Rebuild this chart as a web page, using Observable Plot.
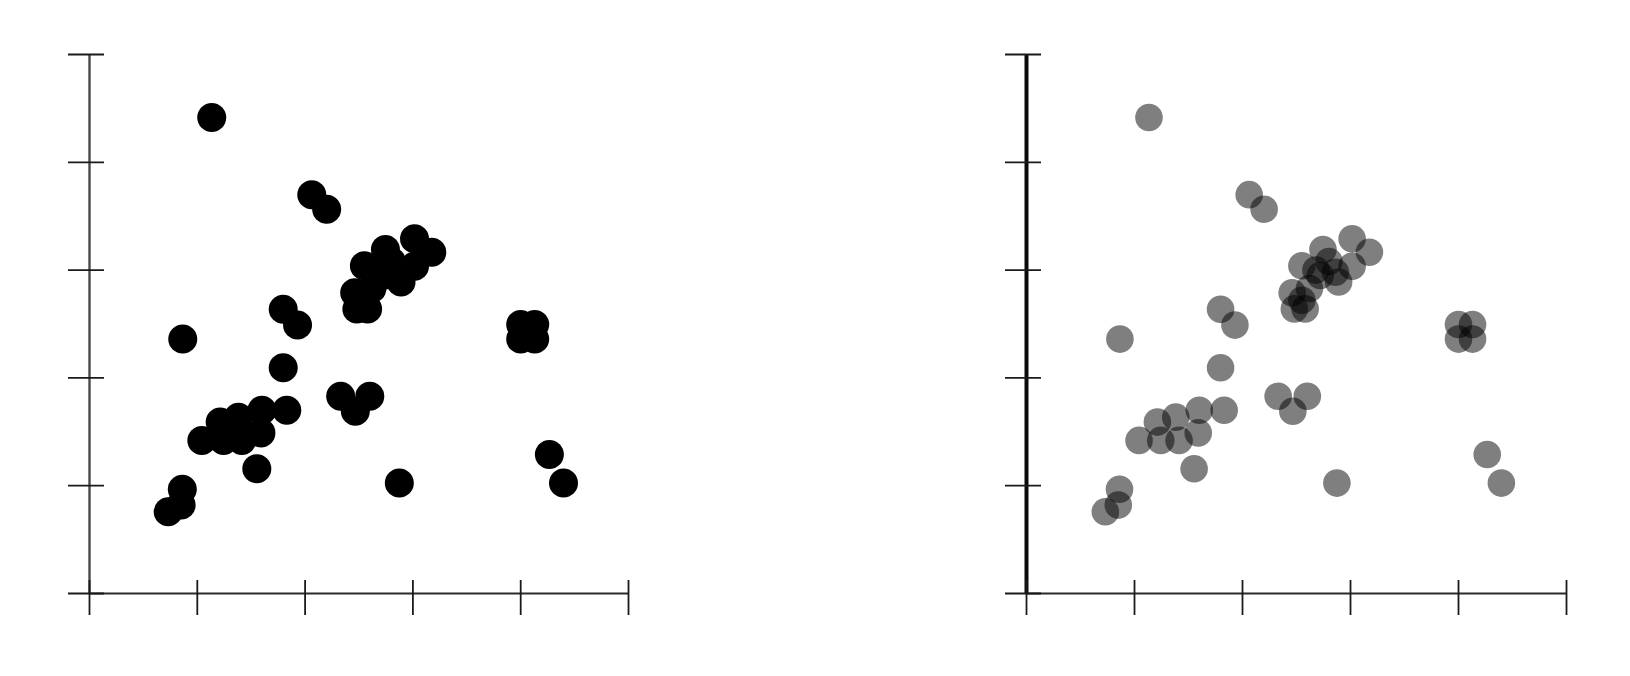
<!DOCTYPE html>
<html>
<head>
<meta charset="utf-8">
<script src="https://cdn.jsdelivr.net/npm/d3@7"></script>
<script src="https://cdn.jsdelivr.net/npm/@observablehq/plot@0.6"></script>
<style>
  html, body { margin: 0; padding: 0; background: #fff; }
  #fig { position: relative; width: 1630px; height: 676px; overflow: hidden; }
  .panel { position: absolute; top: 0; }
  .panel svg { display: block; }
</style>
</head>
<body>
<div id="fig">
  <div class="panel" id="left" style="left:0px"></div>
  <div class="panel" id="right" style="left:815px"></div>
</div>
<script>
// Point values (in axis tick units)
const pointX = [
  1.134, 2.062, 2.20, 3.015, 3.175, 2.745, 3.015, 2.89, 2.55, 2.46,
  2.48, 2.58, 2.80, 2.72, 2.62, 2.55, 1.797, 1.93, 0.865, 1.797,
  2.33, 2.60, 2.466, 1.83, 1.60, 1.382, 1.212, 1.042, 1.243, 1.413,
  1.59, 1.552, 0.861, 0.85, 0.73, 2.874, 4.266, 4.397, 4.0, 4.13,
  4.0, 4.13, 2.68, 2.86
];
const pointY = [
  4.415, 3.70, 3.565, 3.29, 3.165, 3.19, 3.035, 2.89, 3.04, 2.79,
  2.64, 2.64, 3.08, 2.95, 2.83, 2.72, 2.636, 2.49, 2.36, 2.094,
  1.83, 1.83, 1.69, 1.70, 1.70, 1.636, 1.59, 1.42, 1.42, 1.42,
  1.49, 1.157, 0.967, 0.82, 0.758, 1.024, 1.29, 1.024, 2.495, 2.495,
  2.36, 2.36, 3.00, 2.98
];
const tickValues = [0, 1, 2, 3, 4, 5];
const axisDomain = [0, 5];

const points = pointX.map((x, i) => ({x, y: pointY[i]}));

function panel({marginLeft, marginRight, dotFill, dotOpacity, dotR, yAxisStroke, yAxisWidth}) {
  const width = 815, height = 676, marginTop = 54, marginBottom = 83;
  const innerW = width - marginLeft - marginRight;
  const innerH = height - marginTop - marginBottom;
  return Plot.plot({
    width, height, marginLeft, marginRight, marginTop, marginBottom,
    x: {domain: axisDomain, axis: null},
    y: {domain: axisDomain, axis: null},
    marks: [
      Plot.ruleY([0], {stroke: "#2a2a2a", strokeWidth: 2}),
      Plot.ruleX([0], {stroke: yAxisStroke, strokeWidth: yAxisWidth}),
      Plot.ruleX(tickValues, {x: d => d, stroke: "#1a1a1a", strokeWidth: 1.8,
        insetTop: innerH - 13, insetBottom: -22}),
      Plot.ruleY(tickValues, {y: d => d, stroke: "#1a1a1a", strokeWidth: 1.8,
        insetLeft: -21, insetRight: innerW - 15}),
      Plot.dot(points, {x: "x", y: "y", r: dotR, fill: dotFill, fillOpacity: dotOpacity, stroke: "none"})
    ]
  });
}

document.getElementById("left").appendChild(panel({
  marginLeft: 89, marginRight: 187, dotFill: "#000", dotOpacity: 1, dotR: 14.5,
  yAxisStroke: "#4a4a4a", yAxisWidth: 2.4
}));
document.getElementById("right").appendChild(panel({
  marginLeft: 211, marginRight: 64, dotFill: "#000", dotOpacity: 0.5, dotR: 13.8,
  yAxisStroke: "#0a0a0a", yAxisWidth: 4
}));
</script>
</body>
</html>
